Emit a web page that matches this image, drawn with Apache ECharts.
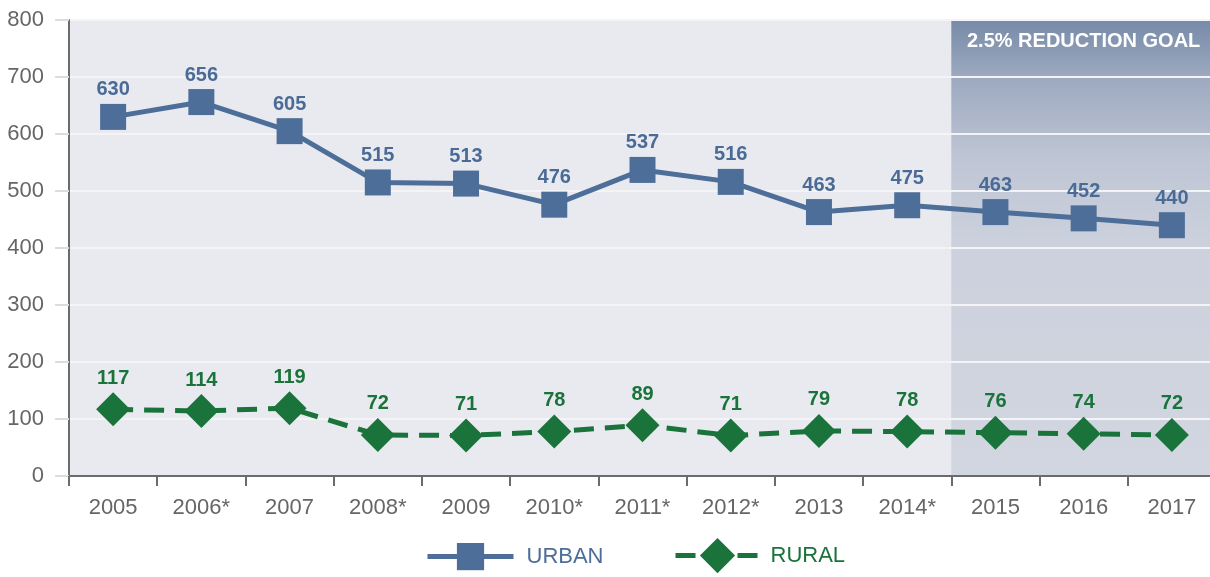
<!DOCTYPE html>
<html>
<head>
<meta charset="utf-8">
<script src="https://cdn.jsdelivr.net/npm/echarts@6/dist/echarts.min.js"></script>
<style>
  html, body { margin: 0; padding: 0; background: #fff; overflow: hidden; }
  /* plot runs a few px past the right edge of the window, as in the original */
  #chart { width: 1216px; height: 577px; }
</style>
</head>
<body>
<div id="chart"></div>
<script>
// years along the x axis
const years = ['2005', '2006*', '2007', '2008*', '2009', '2010*', '2011*', '2012*', '2013', '2014*', '2015', '2016', '2017'];
const urban = [630, 656, 605, 515, 513, 476, 537, 516, 463, 475, 463, 452, 440];
const rural = [117, 114, 119, 72, 71, 78, 89, 71, 79, 78, 76, 74, 72];
// goal band, in category slots (2015 .. 2017)
const goalBand = [10, 13];
const goalText = '2.5% REDUCTION GOAL';

const FONT = "'Liberation Sans', Arial, sans-serif";
const BLUE = '#4d6e98';
const GREEN = '#19733a';

const chart = echarts.init(document.getElementById('chart'));
chart.setOption({
  animation: false,
  grid: {
    left: 69, top: 20, right: 0, bottom: 101,
    show: true, backgroundColor: '#e9eaf0', borderWidth: 0
  },
  // two legends so the diamond can be drawn a bit larger than the square
  legend: [{
    top: 538,
    left: 420,
    itemWidth: 86,
    itemHeight: 34,
    lineStyle: { width: 5 },
    textStyle: { fontFamily: FONT, fontSize: 22, color: BLUE, padding: [0, 0, 0, 8] },
    data: ['URBAN']
  }, {
    top: 533,
    left: 668,
    itemWidth: 84,
    itemHeight: 44,
    lineStyle: { width: 5 },
    textStyle: { fontFamily: FONT, fontSize: 22, color: GREEN, padding: [0, 0, 0, 6] },
    data: ['RURAL']
  }],
  xAxis: [{
    type: 'category',
    data: years,
    boundaryGap: true,
    axisLine: { lineStyle: { color: '#6b6b6b', width: 2 } },
    axisTick: { show: true, length: 10, lineStyle: { color: '#6b6b6b', width: 2 } },
    axisLabel: { color: '#666', fontFamily: FONT, fontSize: 22, margin: 21 },
    z: 3
  }, {
    type: 'value', min: 0, max: years.length, show: false
  }],
  yAxis: {
    type: 'value',
    min: 0, max: 800, interval: 100,
    axisLine: { show: true, lineStyle: { color: '#6b6b6b', width: 2 } },
    axisTick: { show: true, length: 14, lineStyle: { color: '#dcdce0', width: 2 } },
    axisLabel: { color: '#666', fontFamily: FONT, fontSize: 22, margin: 25 },
    splitLine: { lineStyle: { color: '#f4f4f7', width: 2 } },
    z: 3
  },
  series: [
    {
      type: 'line',
      xAxisIndex: 1,
      data: [],
      silent: true,
      z: 1,
      markArea: {
        silent: true,
        itemStyle: {
          color: {
            type: 'linear', x: 0, y: 0, x2: 0, y2: 1,
            colorStops: [
              { offset: 0, color: '#778aa8' },
              { offset: 0.12, color: '#9ba8bf' },
              { offset: 0.3, color: '#bec5d4' },
              { offset: 0.5, color: '#ccd1dd' },
              { offset: 1, color: '#d2d6e0' }
            ]
          }
        },
        label: {
          show: true,
          position: 'insideTop',
          distance: 11,
          color: '#fff',
          fontFamily: FONT,
          fontWeight: 'bold',
          fontSize: 20
        },
        data: [[{ xAxis: goalBand[0], name: goalText }, { xAxis: goalBand[1] }]]
      }
    },
    {
      name: 'URBAN',
      type: 'line',
      data: urban,
      z: 5,
      symbol: 'rect',
      symbolSize: 26,
      itemStyle: { color: BLUE },
      lineStyle: { color: BLUE, width: 5 },
      label: {
        show: true, position: 'top', distance: 4,
        color: '#4a6b96', fontFamily: FONT,
        fontWeight: 'bold', fontSize: 20
      }
    },
    {
      name: 'RURAL',
      type: 'line',
      data: rural,
      z: 5,
      symbol: 'diamond',
      symbolSize: 34,
      itemStyle: { color: GREEN },
      lineStyle: { color: GREEN, width: 5, type: [20, 11] },
      label: {
        show: true, position: 'top', distance: 4,
        color: GREEN, fontFamily: FONT,
        fontWeight: 'bold', fontSize: 20
      }
    }
  ]
});
</script>
</body>
</html>
